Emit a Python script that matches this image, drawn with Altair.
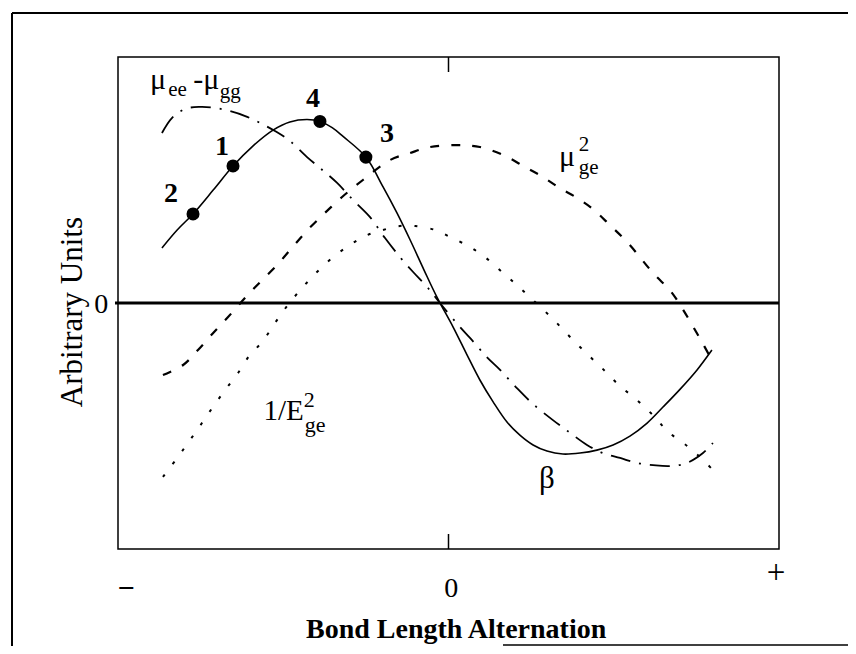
import altair as alt
import pandas as pd

FONT = "Liberation Serif"

# x: bond length alternation (- ... +), y: arbitrary units
beta_x = [-0.867, -0.821, -0.773, -0.712, -0.652, -0.592, -0.531, -0.480, -0.428, -0.389,
          -0.352, -0.319, -0.250, -0.198, -0.156, -0.116, -0.074, -0.035, 0.014, 0.056, 0.095,
          0.135, 0.177, 0.216, 0.256, 0.298, 0.346, 0.398, 0.449, 0.498, 0.549,
          0.601, 0.649, 0.701, 0.752, 0.797]
beta_y = [0.224, 0.297, 0.362, 0.459, 0.557, 0.638, 0.703, 0.736, 0.746, 0.738,
          0.713, 0.677, 0.593, 0.472, 0.366, 0.256, 0.134, 0.024, -0.098, -0.211, -0.313,
          -0.402, -0.484, -0.537, -0.577, -0.602, -0.614, -0.610, -0.598, -0.577, -0.541,
          -0.488, -0.423, -0.350, -0.272, -0.191]

dmu_x = [-0.867, -0.837, -0.797, -0.752, -0.706, -0.661, -0.615, -0.570, -0.525, -0.480,
         -0.428, -0.389, -0.337, -0.289, -0.238, -0.192, -0.147, -0.107, -0.062, -0.026,
         0.029, 0.065, 0.116, 0.156, 0.207, 0.256, 0.316, 0.368, 0.419, 0.467,
         0.519, 0.570, 0.619, 0.670, 0.722, 0.770, 0.800]
dmu_y = [0.691, 0.752, 0.789, 0.797, 0.793, 0.780, 0.760, 0.732, 0.699, 0.659,
         0.593, 0.549, 0.488, 0.419, 0.350, 0.264, 0.187, 0.126, 0.061, 0.0,
         -0.089, -0.142, -0.220, -0.272, -0.346, -0.411, -0.476, -0.528, -0.577, -0.610,
         -0.630, -0.650, -0.659, -0.663, -0.650, -0.610, -0.569]

mu2_x = [-0.864, -0.803, -0.758, -0.712, -0.667, -0.616, -0.570, -0.519, -0.474, -0.426,
         -0.374, -0.322, -0.259, -0.177, -0.116, -0.056, 0.026, 0.095, 0.165, 0.231,
         0.286, 0.337, 0.389, 0.437, 0.488, 0.543, 0.619, 0.674, 0.710, 0.767, 0.794]
mu2_y = [-0.293, -0.252, -0.191, -0.122, -0.057, 0.020, 0.085, 0.154, 0.224, 0.297,
         0.366, 0.431, 0.500, 0.581, 0.610, 0.634, 0.642, 0.634, 0.602, 0.553,
         0.512, 0.467, 0.427, 0.382, 0.317, 0.244, 0.122, 0.045, -0.028, -0.159, -0.225]

inv_x = [-0.864, -0.821, -0.782, -0.746, -0.713, -0.676, -0.637, -0.601, -0.564, -0.525,
         -0.486, -0.443, -0.398, -0.349, -0.298, -0.253, -0.198, -0.147, -0.101, -0.041,
         0.005, 0.059, 0.110, 0.162, 0.210, 0.262, 0.313, 0.362, 0.413, 0.464,
         0.515, 0.570, 0.621, 0.665, 0.722, 0.770, 0.800]
inv_y = [-0.707, -0.630, -0.557, -0.488, -0.423, -0.354, -0.285, -0.211, -0.159, -0.081,
         -0.008, 0.061, 0.126, 0.187, 0.236, 0.272, 0.297, 0.313, 0.313, 0.297,
         0.268, 0.232, 0.187, 0.126, 0.069, 0.004, -0.061, -0.130, -0.199, -0.264,
         -0.333, -0.394, -0.459, -0.524, -0.581, -0.638, -0.679]

pt_labels = ["2", "1", "4", "3"]
pt_x = [-0.773, -0.652, -0.389, -0.250]
pt_y = [0.362, 0.557, 0.738, 0.593]

x_tick_text = ["\u2212", "0", "+"]

xs = alt.Scale(domain=[-1, 1], nice=False, zero=False)
ys = alt.Scale(domain=[-1, 1], nice=False, zero=False)
X = lambda f="x": alt.X(f"{f}:Q", scale=xs, axis=None)
Y = lambda f="y": alt.Y(f"{f}:Q", scale=ys, axis=None)


def curve(xv, yv, dash, width):
    df = pd.DataFrame({"x": xv, "y": yv, "o": list(range(len(xv)))})
    kw = dict(color="black", strokeWidth=width, interpolate="catmull-rom")
    if dash:
        kw["strokeDash"] = dash
    return alt.Chart(df).mark_line(**kw).encode(x=X(), y=Y(), order="o:Q")


def label(text, x, y, size, weight="normal", align="left", baseline="alphabetic", angle=0):
    df = pd.DataFrame({"x": [x], "y": [y], "t": [text]})
    kw = dict(font=FONT, fontSize=size, fontWeight=weight, align=align,
              baseline=baseline, color="black")
    if angle:
        kw["angle"] = angle
    return alt.Chart(df).mark_text(**kw).encode(x=X(), y=Y(), text="t:N")


one = pd.DataFrame({"a": [0]})

layers = [
    # outer frame
    alt.Chart(one).mark_rule(color="black", strokeWidth=2).encode(
        x=alt.value(-106), x2=alt.value(730), y=alt.value(-44)),
    alt.Chart(one).mark_rule(color="black", strokeWidth=2).encode(
        x=alt.value(-106), y=alt.value(-44), y2=alt.value(589)),
    alt.Chart(one).mark_rule(color="black", strokeWidth=1.5).encode(
        x=alt.value(385), x2=alt.value(730), y=alt.value(588)),
    # zero line and ticks
    alt.Chart(pd.DataFrame({"y": [0]})).mark_rule(color="black", strokeWidth=3).encode(
        y=Y(), x=alt.value(-3), x2=alt.value(661)),
    alt.Chart(pd.DataFrame({"x": [0]})).mark_rule(color="black", strokeWidth=1.5).encode(
        x=X(), y=alt.value(0), y2=alt.value(15)),
    alt.Chart(pd.DataFrame({"x": [0]})).mark_rule(color="black", strokeWidth=1.5).encode(
        x=X(), y=alt.value(477), y2=alt.value(492)),
    # curves
    curve(dmu_x, dmu_y, [20, 9, 2, 9], 1.8),
    curve(mu2_x, mu2_y, [9, 12], 2.2),
    curve(inv_x, inv_y, [3, 13], 2.0),
    curve(beta_x, beta_y, None, 1.6),
    alt.Chart(pd.DataFrame({"x": pt_x, "y": pt_y})).mark_circle(
        color="black", size=170, opacity=1).encode(x=X(), y=Y()),
]

# numbered points
for t, lx, ly in zip(pt_labels, [-0.840, -0.685, -0.410, -0.186], [0.443, 0.634, 0.829, 0.687]):
    layers.append(label(t, lx, ly, 28, "bold", "center", "middle"))

# curve labels
layers += [
    label("\u03bc", -0.903, 0.870, 30),
    label("ee", -0.848, 0.841, 21),
    label("-\u03bc", -0.772, 0.870, 30),
    label("gg", -0.692, 0.833, 21),
    label("\u03bc", 0.334, 0.557, 30),
    label("2", 0.394, 0.616, 21),
    label("ge", 0.394, 0.526, 21),
    label("1/E", -0.560, -0.476, 29),
    label("2", -0.438, -0.423, 22),
    label("ge", -0.435, -0.524, 22),
    label("\u03b2", 0.298, -0.752, 31, align="center"),
]

# axis texts
tick_pos = [(-0.976, -1.199, 30, "bold"), (0.008, -1.197, 28, "normal"), (0.991, -1.140, 33, "normal")]
for t, (lx, ly, sz, wt) in zip(x_tick_text, tick_pos):
    layers.append(label(t, lx, ly, sz, wt, "center"))
layers += [
    label("0", -1.051, -0.039, 28, align="center"),
    label("Arbitrary Units", -1.109, -0.037, 31, align="center", angle=270),
    label("Bond Length Alternation", 0.023, -1.362, 28, "bold", "center"),
]

chart = alt.layer(*layers).properties(
    width=661, height=492,
    autosize=alt.AutoSizeParams(type="none"),
    padding={"left": 110, "top": 49, "right": 69, "bottom": 97},
    background="white",
).configure_view(stroke="black", strokeWidth=1.5)

chart.save("out.html", embed_options={"renderer": "svg", "actions": False})
